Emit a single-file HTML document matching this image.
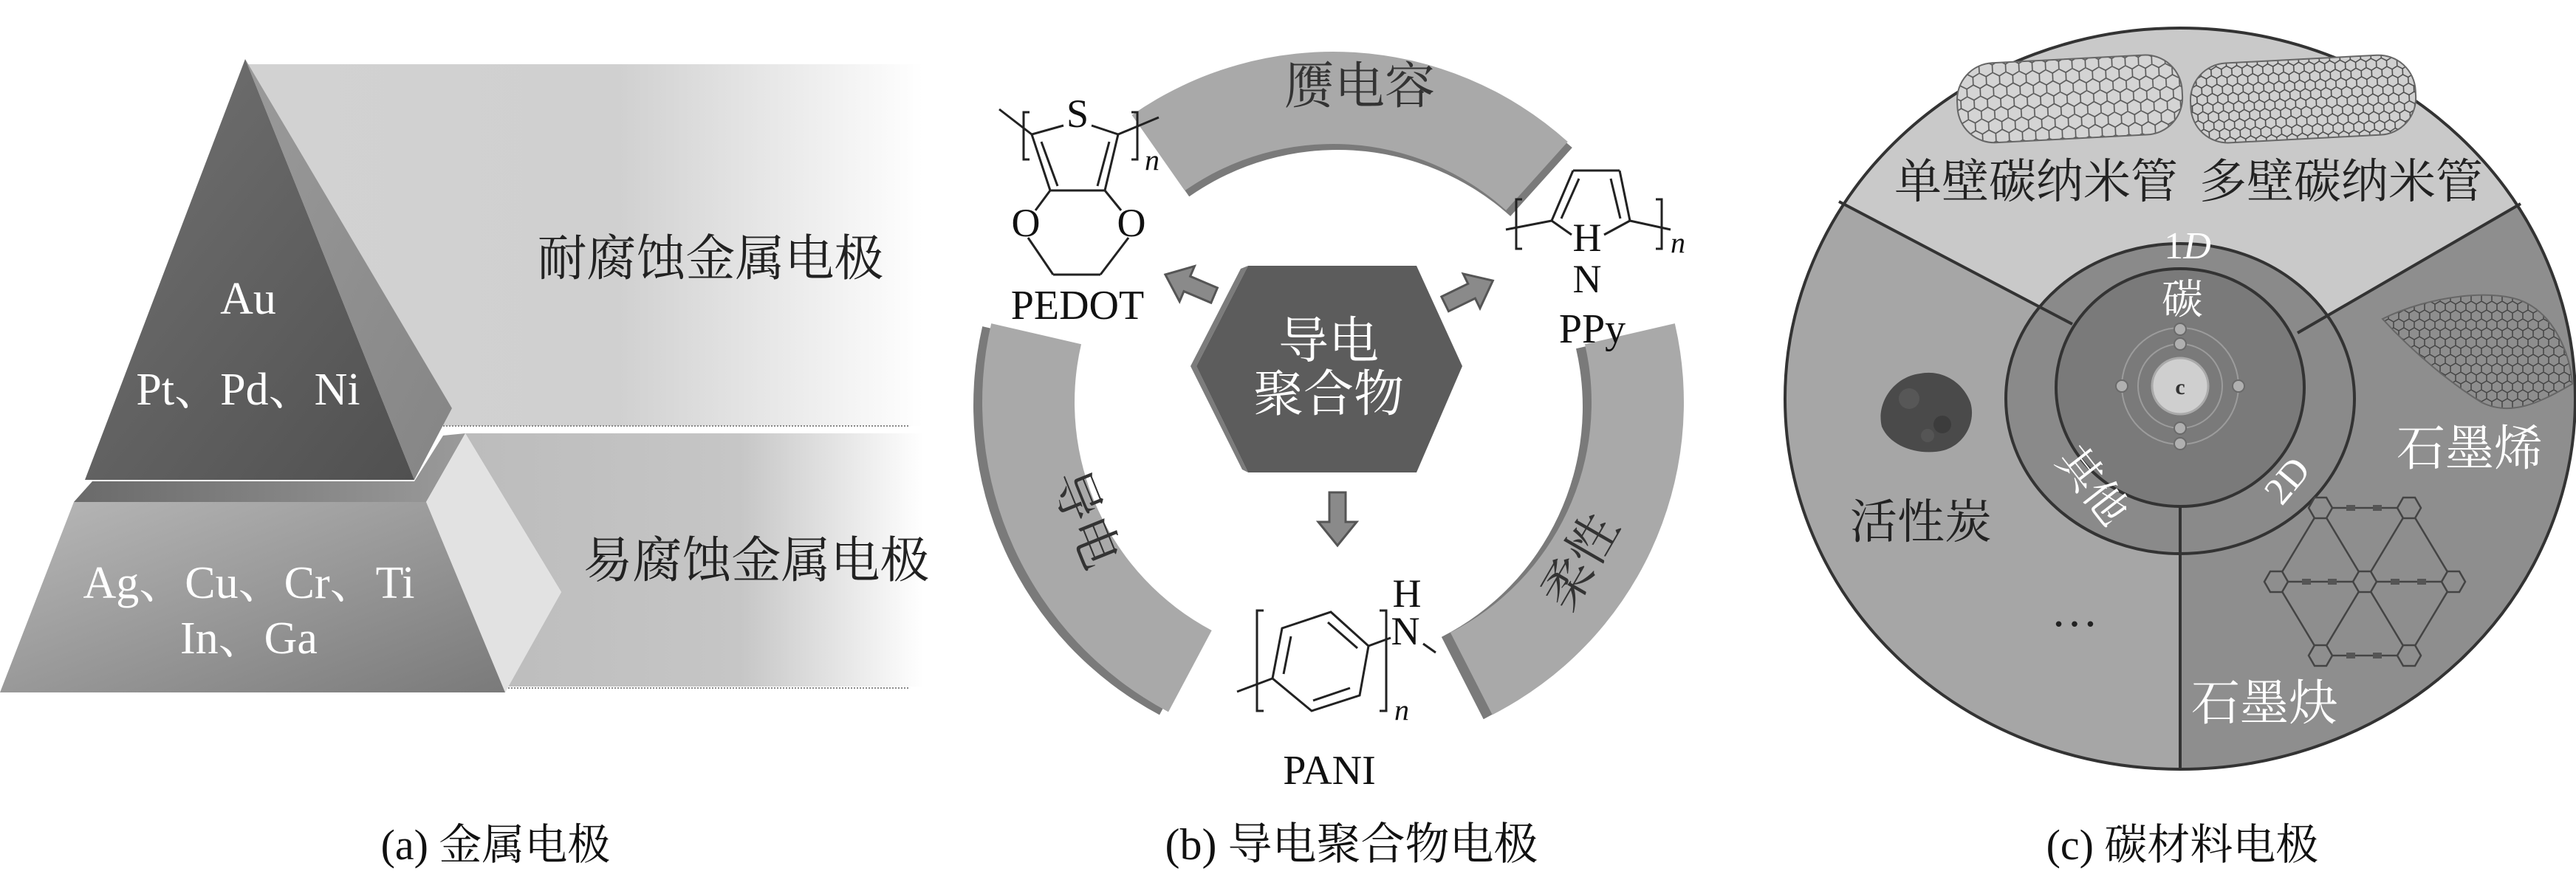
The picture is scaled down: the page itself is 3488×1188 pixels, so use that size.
<!DOCTYPE html>
<html><head><meta charset="utf-8"><style>
html,body{margin:0;padding:0;background:#fff;}
svg{display:block;}
text{font-family:"Liberation Serif","Noto Serif CJK SC",serif;}
</style></head><body>
<svg width="3488" height="1188" viewBox="0 0 3488 1188" xmlns="http://www.w3.org/2000/svg">
<defs>
<linearGradient id="bandA" x1="0" y1="0" x2="1" y2="0">
<stop offset="0" stop-color="#d2d2d2"/><stop offset="0.55" stop-color="#d0d0d0"/><stop offset="1" stop-color="#ffffff"/></linearGradient>
<linearGradient id="bandB" x1="0" y1="0" x2="1" y2="0">
<stop offset="0" stop-color="#bcbcbc"/><stop offset="0.6" stop-color="#c6c6c6"/><stop offset="1" stop-color="#ffffff"/></linearGradient>
<linearGradient id="triF" x1="0" y1="0" x2="1" y2="1">
<stop offset="0" stop-color="#737373"/><stop offset="1" stop-color="#505050"/></linearGradient>
<linearGradient id="triS" x1="0" y1="0" x2="1" y2="1">
<stop offset="0" stop-color="#9a9a9a"/><stop offset="1" stop-color="#858585"/></linearGradient>
<linearGradient id="trap" x1="0" y1="0" x2="1" y2="1">
<stop offset="0" stop-color="#b8b8b8"/><stop offset="1" stop-color="#7a7a7a"/></linearGradient>
<linearGradient id="slab" x1="0" y1="0" x2="1" y2="0">
<stop offset="0" stop-color="#6a6a6a"/><stop offset="1" stop-color="#9a9a9a"/></linearGradient>
<pattern id="hex" width="18" height="31" patternUnits="userSpaceOnUse">
<path d="M0,0 L9,5 L9,15.5 L0,20.5 M9,15.5 L18,20.5 M18,0 L9,5 M0,20.5 L0,31 M18,20.5 L18,31" fill="none" stroke="#555" stroke-width="1.6"/>
</pattern>
<pattern id="hex2" width="14" height="24" patternUnits="userSpaceOnUse">
<path d="M0,0 L7,4 L7,12 L0,16 M7,12 L14,16 M14,0 L7,4 M0,16 L0,24 M14,16 L14,24" fill="none" stroke="#444" stroke-width="1.5"/>
</pattern>
<clipPath id="circ"><ellipse cx="2952" cy="540" rx="535" ry="502"/></clipPath>
<g id="hx"><polygon points="-16,0 -8,-14 8,-14 16,0 8,14 -8,14" fill="#8e8e8e" stroke="#444" stroke-width="2.5"/></g>
</defs>

<!-- ===== Panel (a) ===== -->
<polygon points="332,87 1250,87 1250,577 596,577 612,553" fill="url(#bandA)"/>
<polygon points="630,587 1250,587 1250,930 688,930 760,802" fill="url(#bandB)"/>
<line x1="596" y1="577" x2="1230" y2="577" stroke="#888" stroke-width="2" stroke-dasharray="2,2"/>
<line x1="688" y1="932" x2="1230" y2="932" stroke="#888" stroke-width="2" stroke-dasharray="2,2"/>
<polygon points="100,680 125,652 561,652 600,590 630,587 577,680" fill="url(#slab)"/>
<polygon points="332,80 612,553 561,650" fill="url(#triS)"/>
<polygon points="332,80 115,650 561,650" fill="url(#triF)"/>
<polygon points="577,680 630,587 760,802 684,938" fill="#e2e2e2"/>
<polygon points="100,680 577,680 684,938 0,938" fill="url(#trap)"/>
<g fill="#fff" font-size="62" text-anchor="middle">
<text x="336" y="425">Au</text>
<text x="336" y="548">Pt、Pd、Ni</text>
<text x="337" y="810">Ag、Cu、Cr、Ti</text>
<text x="337" y="885">In、Ga</text>
</g>
<g fill="#222" font-size="67" text-anchor="middle">
<text x="962" y="373">耐腐蚀金属电极</text>
<text x="1024" y="782">易腐蚀金属电极</text>
</g>
<text x="671" y="1164" font-size="58" text-anchor="middle" fill="#111">(a) 金属电极</text>

<!-- ===== Panel (b) ===== -->
<g fill="#7a7a7a">
<path transform="translate(6,8)" d="M1532.6,155.9 A475,475 0 0 1 2122.8,192.0 L2039.2,284.9 A350,350 0 0 0 1604.2,258.3 Z"/>
<path transform="translate(-12,4)" d="M1342.2,438.1 A475,475 0 0 0 1582,964.4 L1640.7,854.0 A350,350 0 0 1 1464.0,466.2 Z"/>
<path transform="translate(-12,6)" d="M2267.8,438.1 A475,475 0 0 1 2020.7,968.2 L1963.9,856.9 A350,350 0 0 0 2146.0,466.2 Z"/>
</g>
<g fill="#a9a9a9">
<path d="M1532.6,155.9 A475,475 0 0 1 2122.8,192.0 L2039.2,284.9 A350,350 0 0 0 1604.2,258.3 Z"/>
<path d="M1342.2,438.1 A475,475 0 0 0 1582,964.4 L1640.7,854.0 A350,350 0 0 1 1464.0,466.2 Z"/>
<path d="M2267.8,438.1 A475,475 0 0 1 2020.7,968.2 L1963.9,856.9 A350,350 0 0 0 2146.0,466.2 Z"/>
</g>
<g fill="#333" font-size="68" text-anchor="middle">
<text x="1841" y="140">赝电容</text>
<text transform="translate(1448,712) rotate(68)">导电</text>
<text transform="translate(2160,772) rotate(-60)">柔性</text>
</g>
<!-- hexagon -->
<polygon points="1680,364 1690,360 1620,496 1690,640 1682,636 1612,496" fill="#7c7c7c"/>
<polygon points="1690,360 1918,360 1980,496 1918,640 1690,640 1620,496" fill="#5c5c5c"/>
<g fill="#fff" font-size="68" text-anchor="middle">
<text x="1799" y="485">导电</text>
<text x="1799" y="557">聚合物</text>
</g>
<!-- arrows -->
<g fill="#8a8a8a" stroke="#555" stroke-width="3">
<path transform="translate(1811,703) rotate(90)" d="M-36,-11 L4,-11 L4,-26 L36,0 L4,26 L4,11 L-36,11 Z"/>
<path transform="translate(1611,386) rotate(203)" d="M-36,-11 L4,-11 L4,-26 L36,0 L4,26 L4,11 L-36,11 Z"/>
<path transform="translate(1989,396) rotate(-26)" d="M-36,-11 L4,-11 L4,-26 L36,0 L4,26 L4,11 L-36,11 Z"/>
</g>
<!-- PEDOT -->
<g stroke="#222" stroke-width="3" fill="none">
<line x1="1353" y1="148" x2="1397" y2="182"/>
<line x1="1514" y1="182" x2="1569" y2="159"/>
<line x1="1440" y1="170" x2="1397" y2="182"/>
<line x1="1478" y1="170" x2="1514" y2="182"/>
<line x1="1397" y1="182" x2="1422" y2="258"/>
<line x1="1410" y1="192" x2="1432" y2="252"/>
<line x1="1514" y1="182" x2="1496" y2="258"/>
<line x1="1502" y1="192" x2="1486" y2="252"/>
<line x1="1422" y1="258" x2="1496" y2="258"/>
<line x1="1422" y1="258" x2="1402" y2="285"/>
<line x1="1496" y1="258" x2="1518" y2="285"/>
<line x1="1392" y1="322" x2="1426" y2="372"/>
<line x1="1528" y1="322" x2="1490" y2="372"/>
<line x1="1426" y1="372" x2="1490" y2="372"/>
<path d="M1394,152 L1386,152 L1386,216 L1394,216"/>
<path d="M1532,152 L1540,152 L1540,216 L1532,216"/>
</g>
<g fill="#111" font-size="54" text-anchor="middle">
<text x="1459" y="172">S</text>
<text x="1389" y="320">O</text>
<text x="1532" y="320">O</text>
<text x="1459" y="432" font-size="56">PEDOT</text>
<text x="1560" y="230" font-size="40" font-style="italic">n</text>
</g>
<!-- PPy -->
<g stroke="#222" stroke-width="3" fill="none">
<line x1="2039" y1="311" x2="2101" y2="299"/>
<line x1="2207" y1="299" x2="2262" y2="311"/>
<line x1="2101" y1="299" x2="2130" y2="231"/>
<line x1="2114" y1="296" x2="2138" y2="242"/>
<line x1="2130" y1="231" x2="2193" y2="231"/>
<line x1="2193" y1="231" x2="2207" y2="299"/>
<line x1="2181" y1="242" x2="2194" y2="296"/>
<line x1="2101" y1="299" x2="2128" y2="318"/>
<line x1="2207" y1="299" x2="2172" y2="318"/>
<path d="M2061,270 L2053,270 L2053,337 L2061,337"/>
<path d="M2242,270 L2250,270 L2250,337 L2242,337"/>
</g>
<g fill="#111" font-size="54" text-anchor="middle">
<text x="2149" y="340">H</text>
<text x="2149" y="396">N</text>
<text x="2156" y="464" font-size="56">PPy</text>
<text x="2272" y="342" font-size="40" font-style="italic">n</text>
</g>
<!-- PANI -->
<g stroke="#222" stroke-width="3" fill="none">
<polygon points="1736,851 1802,829 1853,875 1841,942 1776,963 1723,919"/>
<line x1="1748" y1="862" x2="1738" y2="913"/>
<line x1="1798" y1="843" x2="1838" y2="878"/>
<line x1="1828" y1="932" x2="1778" y2="949"/>
<line x1="1675" y1="937" x2="1723" y2="919"/>
<line x1="1853" y1="875" x2="1883" y2="864"/>
<line x1="1927" y1="872" x2="1944" y2="884"/>
<path d="M1711,827 L1702,827 L1702,963 L1711,963"/>
<path d="M1868,827 L1877,827 L1877,963 L1868,963"/>
</g>
<g fill="#111" font-size="54" text-anchor="middle">
<text x="1905" y="822">H</text>
<text x="1903" y="873">N</text>
<text x="1800" y="1062" font-size="56">PANI</text>
<text x="1898" y="975" font-size="40" font-style="italic">n</text>
</g>
<text x="1830" y="1164" font-size="60" text-anchor="middle" fill="#111">(b) 导电聚合物电极</text>

<!-- ===== Panel (c) ===== -->
<g clip-path="url(#circ)">
<polygon points="2806,439 2350,199 2350,0 3550,0 3550,197 3111,451" fill="#c9c9c9"/>
<polygon points="2806,439 2350,199 2350,1100 2952,1100 2952,686" fill="#a6a6a6"/>
<polygon points="3111,451 3550,197 3550,1100 2952,1100 2952,686" fill="#8e8e8e"/>
</g>
<ellipse cx="2952" cy="540" rx="535" ry="502" fill="none" stroke="#333" stroke-width="4"/>
<ellipse cx="2952" cy="540" rx="236" ry="210" fill="#8a8a8a" stroke="#333" stroke-width="4"/>
<g stroke="#333" stroke-width="4">
<line x1="2490" y1="273" x2="2806" y2="439"/>
<line x1="3413" y1="276" x2="3111" y2="451"/>
<line x1="2952" y1="686" x2="2952" y2="1042"/>
</g>
<ellipse cx="2952" cy="525" rx="168" ry="161" fill="#7a7a7a" stroke="#333" stroke-width="4"/>
<!-- atom -->
<g fill="none" stroke="#9c9c9c" stroke-width="2">
<circle cx="2952" cy="523" r="57"/>
<circle cx="2952" cy="523" r="79"/>
</g>
<circle cx="2952" cy="523" r="38" fill="#cfcfcf" stroke="#aaa" stroke-width="3"/>
<text x="2952" y="534" font-size="30" font-weight="bold" text-anchor="middle" fill="#333">c</text>
<g fill="#b0b0b0" stroke="#6a6a6a" stroke-width="2">
<circle cx="2952" cy="466" r="8"/><circle cx="2952" cy="446" r="8"/>
<circle cx="2952" cy="580" r="8"/><circle cx="2952" cy="601" r="8"/>
<circle cx="2873" cy="523" r="8"/><circle cx="3031" cy="523" r="8"/>
</g>
<!-- nanotubes -->
<g transform="rotate(-3 2800 133)">
<rect x="2650" y="80" width="305" height="108" rx="50" fill="#d4d4d4"/>
<rect x="2650" y="80" width="305" height="108" rx="50" fill="url(#hex)" stroke="#666" stroke-width="2"/>
</g>
<g transform="rotate(-3 3120 133)">
<rect x="2966" y="80" width="305" height="108" rx="50" fill="#d0d0d0"/>
<rect x="2966" y="80" width="305" height="108" rx="50" fill="url(#hex2)" stroke="#666" stroke-width="2"/>
</g>
<!-- graphene -->
<path d="M3226,432 C3290,400 3380,390 3420,410 C3460,430 3480,480 3483,520 C3440,545 3400,565 3360,545 C3320,520 3270,480 3226,432 Z" fill="url(#hex2)" stroke="#666" stroke-width="2"/>
<!-- powder -->
<path d="M2548,578 C2540,545 2565,510 2600,506 C2630,500 2658,518 2668,545 C2676,572 2660,602 2632,610 C2600,618 2560,606 2548,578 Z" fill="#4a4a4a"/>
<circle cx="2585" cy="540" r="14" fill="#575757"/>
<circle cx="2630" cy="575" r="12" fill="#3c3c3c"/>
<circle cx="2610" cy="590" r="9" fill="#555"/>
<!-- graphyne -->
<g stroke="#444" stroke-width="2.5">
<line x1="3142" y1="688" x2="3262" y2="688"/>
<line x1="3082" y1="788" x2="3322" y2="788"/>
<line x1="3142" y1="888" x2="3262" y2="888"/>
<line x1="3142" y1="688" x2="3082" y2="788"/>
<line x1="3142" y1="688" x2="3202" y2="788"/>
<line x1="3262" y1="688" x2="3202" y2="788"/>
<line x1="3262" y1="688" x2="3322" y2="788"/>
<line x1="3082" y1="788" x2="3142" y2="888"/>
<line x1="3202" y1="788" x2="3142" y2="888"/>
<line x1="3202" y1="788" x2="3262" y2="888"/>
<line x1="3322" y1="788" x2="3262" y2="888"/>
</g>
<g fill="#555">
<rect x="3177" y="684" width="12" height="8"/><rect x="3213" y="684" width="12" height="8"/>
<rect x="3117" y="784" width="12" height="8"/><rect x="3152" y="784" width="12" height="8"/>
<rect x="3237" y="784" width="12" height="8"/><rect x="3273" y="784" width="12" height="8"/>
<rect x="3177" y="884" width="12" height="8"/><rect x="3213" y="884" width="12" height="8"/>
</g>
<use href="#hx" x="3142" y="688"/><use href="#hx" x="3262" y="688"/>
<use href="#hx" x="3082" y="788"/><use href="#hx" x="3202" y="788"/><use href="#hx" x="3322" y="788"/>
<use href="#hx" x="3142" y="888"/><use href="#hx" x="3262" y="888"/>
<!-- texts c -->
<g fill="#222" font-size="64" text-anchor="middle">
<text x="2757" y="268">单壁碳纳米管</text>
<text x="3170" y="268">多壁碳纳米管</text>
<text x="2601" y="729">活性炭</text>
<text x="2809" y="848">…</text>
</g>
<g fill="#fff" text-anchor="middle">
<text x="2962" y="350" font-size="52">1<tspan font-style="italic">D</tspan></text>
<text x="2955" y="425" font-size="56">碳</text>
<text transform="translate(2818,670) rotate(52)" font-size="58">其他</text>
<text transform="translate(3110,662) rotate(-50)" font-size="52">2D</text>
<text x="3344" y="630" font-size="66">石墨烯</text>
<text x="3066" y="975" font-size="66">石墨炔</text>
</g>
<text x="2955" y="1164" font-size="58" text-anchor="middle" fill="#111">(c) 碳材料电极</text>
</svg>
</body></html>
